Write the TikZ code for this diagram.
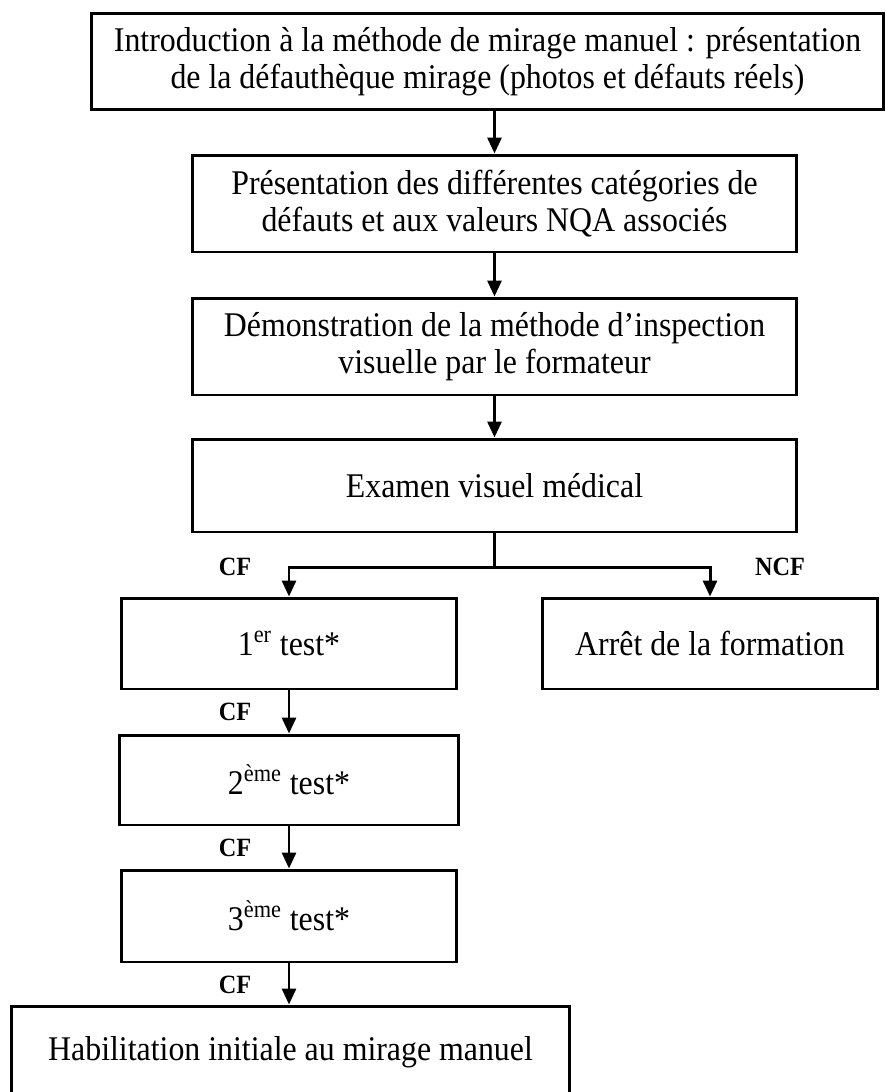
\documentclass[tikz,border=0pt]{standalone}
\usepackage{fontspec}
\setmainfont{Liberation Serif}[FakeStretch=0.92]
\usetikzlibrary{arrows.meta}

\begin{document}
\begin{tikzpicture}[x=0.02cm,y=-0.02cm,
  etape/.style={shape=rectangle,draw=black,line width=1.7pt,align=center,inner sep=0pt,
    font=\fontsize{19.7}{21}\selectfont},
  fleche/.style={line width=1.7pt,-{Triangle[length=0.32cm,width=0.28cm]}},
  decision/.style={font=\fontsize{15}{16}\selectfont\bfseries}]
\useasboundingbox (0,0) rectangle (885,1092);

\node[etape,minimum width=15.86cm,minimum height=1.94cm] (intro) at (487.5,61.5) {Introduction à la méthode de mirage manuel : présentation\\de la défauthèque mirage (photos et défauts réels)};
\node[etape,minimum width=12.1cm,minimum height=1.94cm] (categ) at (494.5,203.5) {Présentation des différentes catégories de\\défauts et aux valeurs NQA associés};
\node[etape,minimum width=12.1cm,minimum height=1.94cm] (demo) at (494.5,346.5) {Démonstration de la méthode d’inspection\\visuelle par le formateur};
\node[etape,minimum width=12.1cm,minimum height=1.86cm] (examen) at (494.5,485.5) {Examen visuel médical};
\node[etape,minimum width=6.7cm,minimum height=1.82cm] (test1) at (289,643.5) {1\textsuperscript{er} test*};
\node[etape,minimum width=6.72cm,minimum height=1.82cm] (arret) at (710,643.5) {Arrêt de la formation};
\node[etape,minimum width=6.8cm,minimum height=1.8cm] (test2) at (289,780) {2\textsuperscript{ème} test*};
\node[etape,minimum width=6.72cm,minimum height=1.84cm] (test3) at (289,916) {3\textsuperscript{ème} test*};
\node[etape,minimum width=11.18cm,minimum height=1.84cm] (habil) at (290.5,1052) {Habilitation initiale au mirage manuel};

\coordinate (branche) at (494.5,567);

\node[decision] (cf1) at (235,567) {CF};
\node[decision] (ncf) at (780,567) {NCF};
\node[decision] (cf2) at (235,712) {CF};
\node[decision] (cf3) at (235,848) {CF};
\node[decision] (cf4) at (235,985) {CF};

\draw[fleche] (intro.south -| categ.north) -- (categ.north);
\draw[fleche] (categ) -- (demo);
\draw[fleche] (demo) -- (examen);
\draw[line width=1.7pt] (examen.south) -- (branche);
\draw[fleche] (branche) -| (test1);
\draw[fleche] (branche) -| (arret);
\draw[fleche] (test1) -- (test2);
\draw[fleche] (test2) -- (test3);
\draw[fleche] (test3.south) -- (test3.south |- habil.north);
\end{tikzpicture}
\end{document}
